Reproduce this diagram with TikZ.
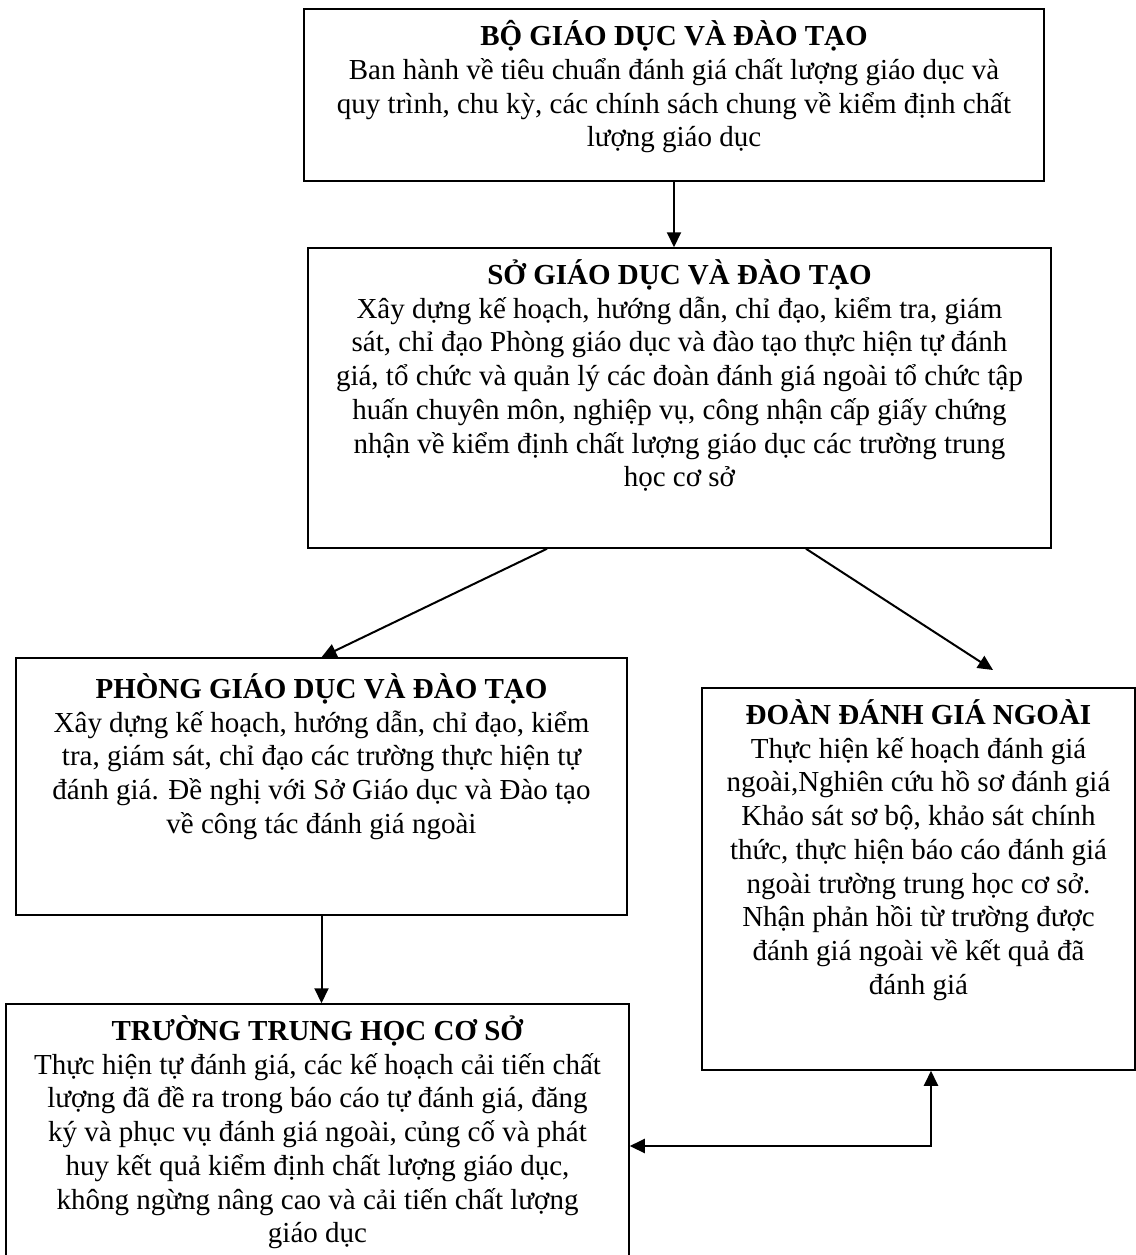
\documentclass[tikz,border=0pt]{standalone}
\usepackage{fontspec}
\setmainfont{Liberation Serif}
\usetikzlibrary{arrows.meta}

\begin{document}
\begin{tikzpicture}[x=0.5pt,y=-0.5pt,
  box/.style={draw, line width=0.75pt, rectangle, inner sep=0pt},
  txt/.style={anchor=north, align=center, inner sep=0pt, font=\fontsize{14.5}{16.85}\selectfont},
  arr/.style={line width=1pt, -{Triangle[length=7.5pt,width=7pt]}},
  arrtwo/.style={line width=1pt, {Triangle[length=7.5pt,width=7pt]}-{Triangle[length=7.5pt,width=7pt]}}]
\useasboundingbox (0,0) rectangle (1136,1255);
\clip (0,0) rectangle (1136,1255);
\node[box, minimum width=370pt, minimum height=86pt] (bo) at (674,95){};
\node[box, minimum width=371.5pt, minimum height=150pt] (so) at (679.5,398){};
\node[box, minimum width=305.5pt, minimum height=128.5pt] (phong) at (321.5,786.5){};
\node[box, minimum width=216.5pt, minimum height=191pt] (doan) at (918.5,879){};
\node[box, minimum width=311.5pt, minimum height=130.5pt] (truong) at (317.5,1134.5){};
\node[txt] (botxt) at ([yshift=-6pt]bo.north){\textbf{BỘ GIÁO DỤC VÀ ĐÀO TẠO}\\
Ban hành về tiêu chuẩn đánh giá chất lượng giáo dục và\\
quy trình, chu kỳ, các chính sách chung về kiểm định chất\\
lượng giáo dục};
\node[txt] (sotxt) at ([yshift=-6pt]so.north){\textbf{SỞ GIÁO DỤC VÀ ĐÀO TẠO}\\
Xây dựng kế hoạch, hướng dẫn, chỉ đạo, kiểm tra, giám\\
sát, chỉ đạo Phòng giáo dục và đào tạo thực hiện tự đánh\\
giá, tổ chức và quản lý các đoàn đánh giá ngoài tổ chức tập\\
huấn chuyên môn, nghiệp vụ, công nhận cấp giấy chứng\\
nhận về kiểm định chất lượng giáo dục các trường trung\\
học cơ sở};
\node[txt] (phongtxt) at ([yshift=-8pt]phong.north){\textbf{PHÒNG GIÁO DỤC VÀ ĐÀO TẠO}\\
Xây dựng kế hoạch, hướng dẫn, chỉ đạo, kiểm\\
tra, giám sát, chỉ đạo các trường thực hiện tự\\
đánh giá. Đề nghị với Sở Giáo dục và Đào tạo\\
về công tác đánh giá ngoài};
\node[txt] (doantxt) at ([yshift=-6pt]doan.north){\textbf{ĐOÀN ĐÁNH GIÁ NGOÀI}\\
Thực hiện kế hoạch đánh giá\\
ngoài,Nghiên cứu hồ sơ đánh giá\\
Khảo sát sơ bộ, khảo sát chính\\
thức, thực hiện báo cáo đánh giá\\
ngoài trường trung học cơ sở.\\
Nhận phản hồi từ trường được\\
đánh giá ngoài về kết quả đã\\
đánh giá};
\node[txt] (truongtxt) at ([yshift=-6pt]truong.north){\textbf{TRƯỜNG TRUNG HỌC CƠ SỞ}\\
Thực hiện tự đánh giá, các kế hoạch cải tiến chất\\
lượng đã đề ra trong báo cáo tự đánh giá, đăng\\
ký và phục vụ đánh giá ngoài, củng cố và phát\\
huy kết quả kiểm định chất lượng giáo dục,\\
không ngừng nâng cao và cải tiến chất lượng\\
giáo dục};
\coordinate (dtip) at (993,670);
\coordinate (knee) at (931,1146);
\draw[arr] (bo.south) -- (bo.south |- so.north);
\draw[arr] ([xshift=-66.25pt]so.south) -- (phong.north);
\draw[arr] ([xshift=63.25pt]so.south) -- (dtip);
\draw[arr] (phong.south) -- (phong.south |- truong.north);
\draw[arrtwo] (truong.east |- knee) -- (knee) -- (knee |- doan.south);
\end{tikzpicture}
\end{document}
